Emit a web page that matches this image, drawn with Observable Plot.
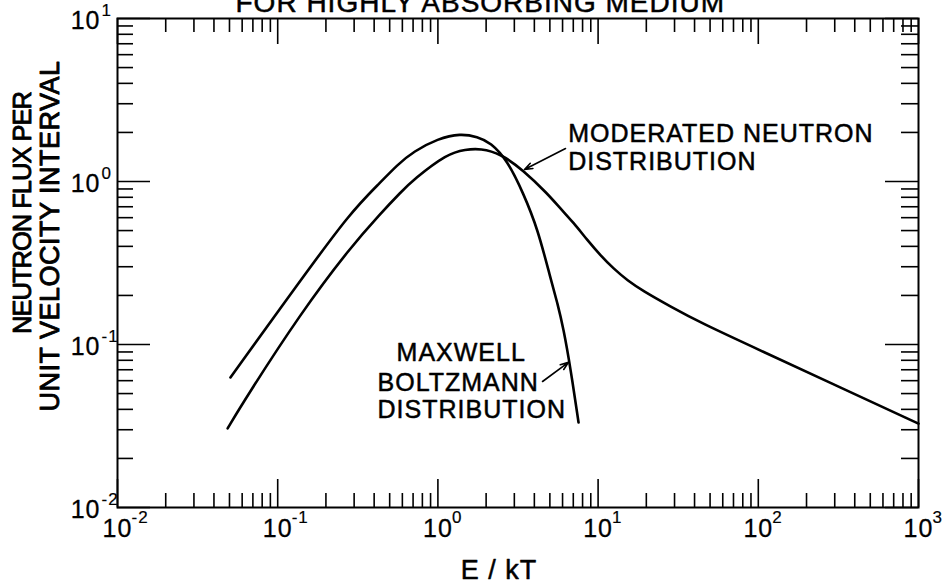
<!DOCTYPE html>
<html>
<head>
<meta charset="utf-8">
<script src="https://cdn.jsdelivr.net/npm/d3@7"></script>
<script src="https://cdn.jsdelivr.net/npm/@observablehq/plot@0.6"></script>
<style>
html, body { margin: 0; padding: 0; background: #fff; }
#chart svg text { letter-spacing: 1px; }
</style>
</head>
<body>
<div id="chart"></div>
<script>
// ---- data ----
const maxwellE    = [0.0507, 0.1387, 0.284, 0.439, 0.560, 0.705, 1.0, 1.384, 1.77, 2.13, 2.72, 3.42, 4.19, 5.05, 5.58, 6.08, 6.73, 7.55];
const maxwellFlux = [0.0628, 0.247, 0.646, 0.990, 1.27, 1.528, 1.835, 1.97, 1.88, 1.735, 1.345, 0.843, 0.515, 0.254, 0.179, 0.125, 0.0713, 0.0332];

const moderatedE    = [0.0487, 0.063, 0.1387, 0.284, 0.439, 0.585, 0.705, 1.148, 1.487, 1.845, 2.46, 3.42, 4.83, 5.82, 7.02, 8.59, 10.35, 12.48, 15.27, 18.93, 28.3, 43.6, 103, 326, 1000];
const moderatedFlux = [0.0306, 0.0467, 0.155, 0.394, 0.637, 0.857, 1.028, 1.485, 1.572, 1.594, 1.485, 1.168, 0.843, 0.682, 0.560, 0.435, 0.352, 0.292, 0.247, 0.214, 0.171, 0.136, 0.092, 0.0545, 0.0327];

const xDecades = [0.01, 0.1, 1, 10, 100, 1000];
const xDecadeExp = ["-2", "-1", "0", "1", "2", "3"];
const yDecades = [0.01, 0.1, 1, 10];
const yDecadeExp = ["-2", "-1", "0", "1"];
const minorMultipliers = [2, 3, 4, 5, 6, 7, 8, 9];

const titleText = "FOR HIGHLY ABSORBING MEDIUM";
const yLabelLines = ["NEUTRON FLUX PER", "UNIT VELOCITY INTERVAL"];
const xLabelText = "E / kT";

const labelTexts = ["MODERATED NEUTRON", "DISTRIBUTION", "MAXWELL", "BOLTZMANN", "DISTRIBUTION"];
const labelE     = [6.5, 6.5, 0.552, 0.42, 0.42];
const labelFlux  = [1.97, 1.31, 0.0893, 0.0584, 0.0399];

const leaderFromE    = [6.26, 4.50];
const leaderFromFlux = [1.594, 0.0593];
const leaderToE      = [3.47, 6.53];
const leaderToFlux   = [1.185, 0.0777];

// ---- build tables ----
const maxwell = maxwellE.map((e, i) => ({e, f: maxwellFlux[i]}));
const moderated = moderatedE.map((e, i) => ({e, f: moderatedFlux[i]}));
const labels = labelTexts.map((t, i) => ({t, e: labelE[i], f: labelFlux[i]}));
const leaders = leaderFromE.map((e, i) => ({x1: e, y1: leaderFromFlux[i], x2: leaderToE[i], y2: leaderToFlux[i]}));
const minorX = xDecades.slice(0, -1).flatMap(d => minorMultipliers.map(m => d * m));
const minorY = yDecades.slice(0, -1).flatMap(d => minorMultipliers.map(m => d * m));

const W = 949, H = 584, mT = 18, mB = 77, mL = 117, mR = 31;
const fh = H - mT - mB, fw = W - mL - mR;
const font = "'Liberation Sans', Arial, Helvetica, sans-serif";
const ink = (w) => ({fill: "black", stroke: "black", strokeWidth: w});

const chart = Plot.plot({
  width: W, height: H,
  marginTop: mT, marginBottom: mB, marginLeft: mL, marginRight: mR,
  style: {fontFamily: font, background: "white", color: "black", overflow: "hidden"},
  x: {type: "log", domain: [0.01, 1000], axis: null},
  y: {type: "log", domain: [0.01, 10], axis: null},
  marks: [
    Plot.frame({strokeWidth: 2}),
    // bottom ticks (inward)
    Plot.tickX(minorX, {x: d => d, insetTop: fh - 14, strokeWidth: 1.6}),
    Plot.tickX(xDecades, {x: d => d, insetTop: fh - 28, strokeWidth: 1.6}),
    // top ticks
    Plot.tickX(minorX, {x: d => d, insetBottom: fh - 14, strokeWidth: 1.6}),
    Plot.tickX(xDecades, {x: d => d, insetBottom: fh - 26, strokeWidth: 1.6}),
    // left ticks
    Plot.tickY(minorY, {y: d => d, insetRight: fw - 16, strokeWidth: 1.6}),
    Plot.tickY(yDecades, {y: d => d, insetRight: fw - 33, strokeWidth: 1.6}),
    // right ticks
    Plot.tickY(minorY, {y: d => d, insetLeft: fw - 17, strokeWidth: 1.6}),
    Plot.tickY(yDecades, {y: d => d, insetLeft: fw - 33, strokeWidth: 1.6}),
    // x tick labels
    Plot.text(xDecades, {x: d => d, frameAnchor: "bottom", text: () => "10", dy: 21, fontSize: 25, textAnchor: "middle", lineAnchor: "middle", ...ink(0.3)}),
    Plot.text(xDecades, {x: d => d, frameAnchor: "bottom", text: (d, i) => xDecadeExp[i], dx: 14, dy: 10, fontSize: 17, textAnchor: "start", lineAnchor: "middle", ...ink(0.2)}),
    // y tick labels
    Plot.text(yDecades, {y: d => d, frameAnchor: "left", text: () => "10", dx: -17, dy: 2, fontSize: 25, textAnchor: "end", lineAnchor: "middle", ...ink(0.3)}),
    Plot.text(yDecades, {y: d => d, frameAnchor: "left", text: (d, i) => yDecadeExp[i], dx: -16, dy: -8, fontSize: 17, textAnchor: "start", lineAnchor: "middle", ...ink(0.2)}),
    // curves
    Plot.line(moderated, {x: "e", y: "f", curve: "basis", strokeWidth: 2.6}),
    Plot.line(maxwell, {x: "e", y: "f", curve: "basis", strokeWidth: 2.6}),
    // annotations
    Plot.text(labels, {x: "e", y: "f", text: "t", fontSize: 25, textAnchor: "start", lineAnchor: "middle", ...ink(0.5)}),
    Plot.arrow(leaders, {x1: "x1", y1: "y1", x2: "x2", y2: "y2", strokeWidth: 1.6, headLength: 8, headAngle: 40}),
    // title (cut off at top, as in the reference)
    Plot.text([titleText], {frameAnchor: "top-left", dx: 118, dy: -7, fontSize: 28, textAnchor: "start", lineAnchor: "bottom", ...ink(0.5)}),
    // axis labels
    Plot.text([yLabelLines[0]], {frameAnchor: "left", rotate: -90, dx: -95, dy: -50, fontSize: 25.5, textAnchor: "middle", lineAnchor: "middle", ...ink(0.9)}),
    Plot.text([yLabelLines[1]], {frameAnchor: "left", rotate: -90, dx: -67, dy: -27, fontSize: 27, textAnchor: "middle", lineAnchor: "middle", ...ink(0.9)}),
    Plot.text([xLabelText], {frameAnchor: "bottom", dx: -19, dy: 63, fontSize: 27, textAnchor: "middle", lineAnchor: "middle", ...ink(0.5)})
  ]
});

d3.select(chart).selectAll("text")
  .filter(function() { return this.textContent === yLabelLines[0]; })
  .style("letter-spacing", "-1px");
d3.select(chart).selectAll("text")
  .filter(function() { return this.textContent === yLabelLines[1]; })
  .style("letter-spacing", "0.5px");

document.getElementById("chart").appendChild(chart);
</script>
</body>
</html>
